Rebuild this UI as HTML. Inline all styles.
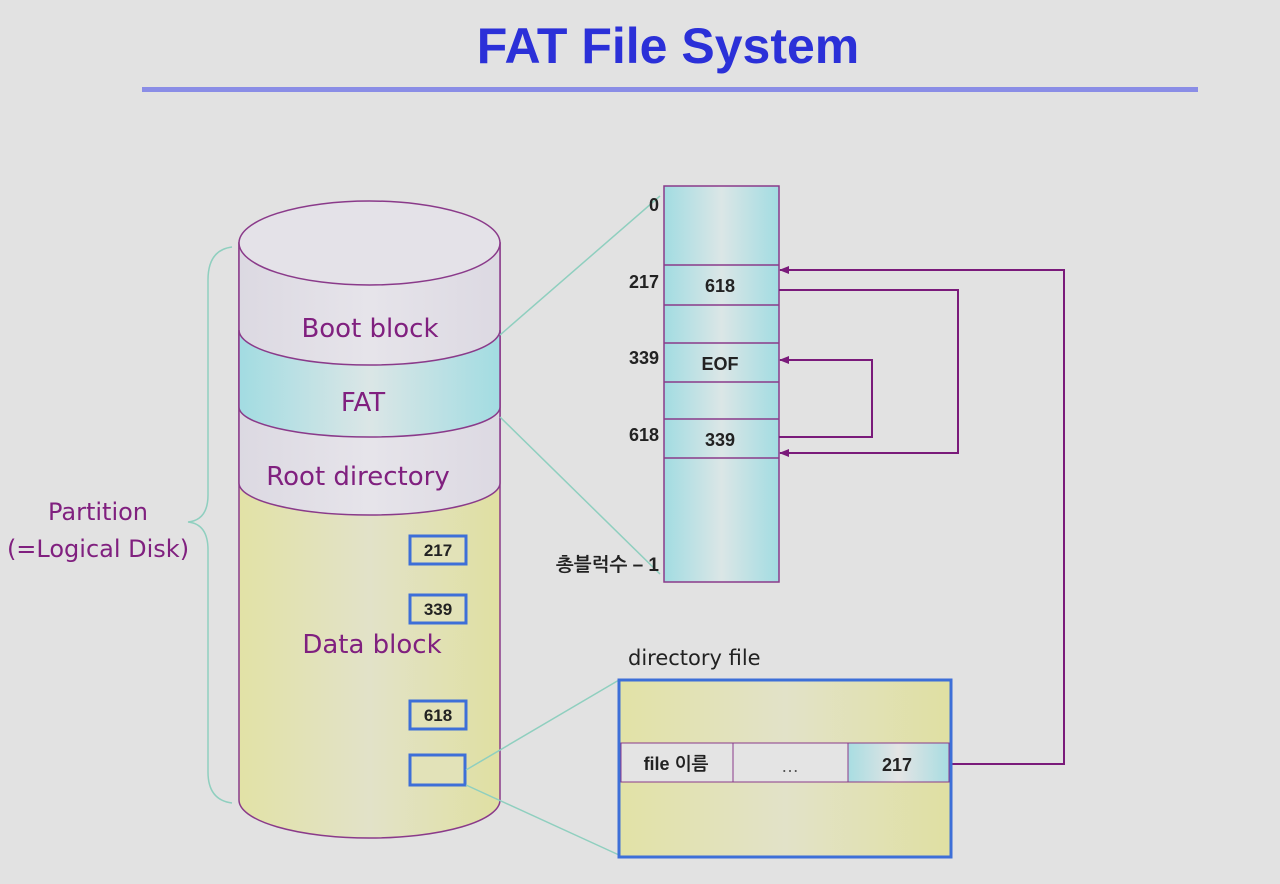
<!DOCTYPE html>
<html><head><meta charset="utf-8"><style>
html,body{margin:0;padding:0;background:#e2e2e2;}
svg{display:block}
</style></head><body>
<svg width="1280" height="884" viewBox="0 0 1280 884" xmlns="http://www.w3.org/2000/svg">
<defs>
<linearGradient id="cy" x1="0" x2="1" y1="0" y2="0">
<stop offset="0" stop-color="#a2dce2"/><stop offset="0.5" stop-color="#dbe6e6"/><stop offset="1" stop-color="#a2dce2"/></linearGradient>
<linearGradient id="gr" x1="0" x2="1"><stop offset="0" stop-color="#dcd9e2"/><stop offset="0.5" stop-color="#e6e4ea"/><stop offset="1" stop-color="#dcd9e2"/></linearGradient>
<linearGradient id="ye" x1="0" x2="1"><stop offset="0" stop-color="#e2e2a6"/><stop offset="0.5" stop-color="#e2e2c8"/><stop offset="1" stop-color="#e0e0a2"/></linearGradient>
<linearGradient id="cyr" x1="0" x2="1"><stop offset="0" stop-color="#a8dde2"/><stop offset="0.5" stop-color="#e4e4e4"/><stop offset="1" stop-color="#a8dde2"/></linearGradient>
<marker id="ah" markerWidth="10" markerHeight="10" refX="9" refY="5" orient="auto" markerUnits="userSpaceOnUse"><path d="M0,1 L10,5 L0,9 z" fill="#7a1a7a"/></marker>
</defs>
<text x="668" y="63" text-anchor="middle" font-family="Liberation Sans, sans-serif" font-weight="bold" font-size="50" fill="#2b30d8">FAT File System</text>
<rect x="142" y="87" width="1056" height="5" fill="#8a8de6"/>

<!-- cylinder -->
<g stroke="#8a3a8a" stroke-width="1.5">
<path d="M239,243 L239,800 A130.5,38 0 0 0 500,800 L500,243 Z" fill="url(#ye)"/>
<path d="M239,243 L239,483 A130.5,32 0 0 0 500,483 L500,243 Z" fill="url(#gr)"/>
<path d="M239,330 L239,407 A130.5,30 0 0 0 500,407 L500,330 A130.5,35 0 0 1 239,330 Z" fill="url(#cy)"/>
<ellipse cx="369.5" cy="243" rx="130.5" ry="42" fill="#e4e2e8"/>
</g>
<g font-family="DejaVu Sans, sans-serif" font-size="26" fill="#80207f" text-anchor="middle">
<text x="370" y="337">Boot block</text>
<text x="363" y="411">FAT</text>
<text x="358" y="485">Root directory</text>
<text x="372" y="653">Data block</text>
<text x="98" y="520" font-size="24">Partition</text>
<text x="98" y="557" font-size="24">(=Logical Disk)</text>
</g>
<path d="M232,247 Q208,250 208,280 L208,495 Q208,520 188,522 Q208,524 208,550 L208,772 Q208,800 232,803" fill="none" stroke="#8fcfbf" stroke-width="1.5"/>

<g stroke="#3d6fd8" stroke-width="3" fill="#e2e2b8">
<rect x="410" y="536" width="56" height="28"/>
<rect x="410" y="595" width="56" height="28"/>
<rect x="410" y="701" width="56" height="28"/>
<rect x="410" y="755" width="55" height="30"/>
</g>
<g font-family="Liberation Sans, sans-serif" font-weight="bold" font-size="17" fill="#222" text-anchor="middle">
<text x="438" y="556">217</text><text x="438" y="615">339</text><text x="438" y="721">618</text>
</g>

<!-- green lines -->
<g stroke="#8fcfbf" stroke-width="1.5" fill="none">
<line x1="500" y1="335" x2="660" y2="196"/>
<line x1="500" y1="417" x2="660" y2="574"/>
<line x1="466" y1="770" x2="619" y2="680"/>
<line x1="466" y1="785" x2="619" y2="855"/>
</g>

<!-- FAT table -->
<rect x="664" y="186" width="115" height="396" fill="url(#cy)" stroke="#8a3a8a" stroke-width="1.5"/>
<g stroke="#8a3a8a" stroke-width="1.5">
<line x1="664" y1="265" x2="779" y2="265"/><line x1="664" y1="305" x2="779" y2="305"/>
<line x1="664" y1="343" x2="779" y2="343"/><line x1="664" y1="382" x2="779" y2="382"/>
<line x1="664" y1="419" x2="779" y2="419"/><line x1="664" y1="458" x2="779" y2="458"/>
</g>
<g font-family="Liberation Sans, sans-serif" font-weight="bold" font-size="18" fill="#222">
<text x="720" y="292" text-anchor="middle">618</text>
<text x="720" y="370" text-anchor="middle">EOF</text>
<text x="720" y="446" text-anchor="middle">339</text>
<text x="659" y="211" text-anchor="end">0</text>
<text x="659" y="288" text-anchor="end">217</text>
<text x="659" y="364" text-anchor="end">339</text>
<text x="659" y="441" text-anchor="end">618</text>
<text x="659" y="571" text-anchor="end" font-family="Liberation Sans, NanumGothic, sans-serif" font-size="19">총블럭수 – 1</text>
</g>

<!-- arrows -->
<g stroke="#7a1a7a" stroke-width="2" fill="none">
<polyline points="950,764 1064,764 1064,270 780,270" marker-end="url(#ah)"/>
<polyline points="779,290 958,290 958,453 780,453" marker-end="url(#ah)"/>
<polyline points="779,437 872,437 872,360 780,360" marker-end="url(#ah)"/>
</g>

<!-- directory file -->
<text x="628" y="665" font-family="DejaVu Sans, sans-serif" font-size="21" fill="#222">directory file</text>
<rect x="619" y="680" width="332" height="177" fill="url(#ye)" stroke="#3d6fd8" stroke-width="3"/>
<rect x="621" y="743" width="112" height="39" fill="#e4e4e4" stroke="#8a3a8a" stroke-width="1"/>
<rect x="733" y="743" width="115" height="39" fill="#e4e4e4" stroke="#8a3a8a" stroke-width="1"/>
<rect x="848" y="743" width="101" height="39" fill="url(#cyr)" stroke="#8a3a8a" stroke-width="1"/>
<g font-family="Liberation Sans, NanumGothic, sans-serif" font-weight="bold" font-size="18" fill="#222" text-anchor="middle">
<text x="676" y="770">file 이름</text>
<text x="790" y="772" font-weight="normal" fill="#555">…</text>
<text x="897" y="771">217</text>
</g>
</svg>
</body></html>
